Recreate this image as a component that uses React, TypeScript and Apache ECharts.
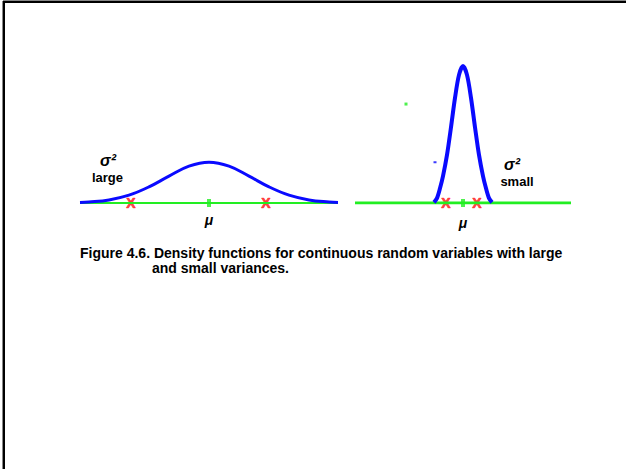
import React, { useEffect, useRef } from "react";
import * as echarts from "echarts";

// Wide (large variance) density: x in units, y in density units
const leftX = [-6.45, -6, -5, -4, -3, -2, -1, 0, 1, 2, 3, 4, 5, 6, 6.45];
const leftY = [0.003, 0.006, 0.019, 0.048, 0.099, 0.165, 0.226, 0.25, 0.226, 0.165, 0.099, 0.048, 0.019, 0.006, 0.003];
// Narrow (small variance) density
const rightX = [-1.45, -1.3, -1.15, -1, -0.8, -0.6, -0.4, -0.2, 0, 0.2, 0.4, 0.6, 0.8, 1, 1.15, 1.3, 1.45];
const rightY = [0.004, 0.03, 0.09, 0.165, 0.295, 0.465, 0.645, 0.786, 0.84, 0.786, 0.645, 0.465, 0.295, 0.165, 0.09, 0.03, 0.004];
// Axis ranges
const leftRange = [-6.45, 6.45];
const rightRange = [-5.4, 5.4];
// Red X marks
const leftMarks = [-3.9, 2.85];
const rightMarks = [-0.85, 0.7];
// Means
const leftMean = 0;
const rightMean = 0;
// stray specks in right panel
const rightSpecksGreen = [[-2.85, 0.607]];
const rightSpecksBlue = [[-1.4, 0.25]];

const captionLine1 = "Figure 4.6. Density functions for continuous random variables with large";
const captionLine2 = "and small variances.";

const GREEN = "#22ee22";
const BLUE = "#0a0aff";
const RED = "#ff1a1a";
const FONT = "'Liberation Sans', Arial, sans-serif";

export default function App() {
  const ref = useRef<HTMLDivElement>(null);
  useEffect(() => {
    if (!ref.current) return;
    const chart = echarts.init(ref.current, null, { renderer: "svg" });
    const zip = (xs: number[], ys: number[]) => xs.map((x, i) => [x, ys[i]]);
    const xMarkLabel = {
      show: true,
      formatter: "X",
      position: "inside",
      color: RED,
      fontSize: 14,
      fontWeight: "bold",
      fontFamily: FONT,
      textBorderColor: RED,
      textBorderWidth: 0.7,
    };
    const option: any = {
      animation: false,
      backgroundColor: "#ffffff",
      grid: [
        { left: 80, width: 258, top: 40, height: 163 },
        { left: 355, width: 216, top: 40, height: 163 },
      ],
      xAxis: [
        { type: "value", gridIndex: 0, min: leftRange[0], max: leftRange[1], show: false },
        { type: "value", gridIndex: 1, min: rightRange[0], max: rightRange[1], show: false },
      ],
      yAxis: [
        { type: "value", gridIndex: 0, min: 0, max: 1, show: false },
        { type: "value", gridIndex: 1, min: 0, max: 1, show: false },
      ],
      series: [
        {
          type: "line", xAxisIndex: 0, yAxisIndex: 0, symbol: "none",
          data: [[leftRange[0], 0], [leftRange[1], 0]],
          lineStyle: { color: GREEN, width: 2 },
        },
        {
          type: "line", xAxisIndex: 1, yAxisIndex: 1, symbol: "none",
          data: [[rightRange[0], 0], [rightRange[1], 0]],
          lineStyle: { color: GREEN, width: 3 },
        },
        {
          type: "line", xAxisIndex: 0, yAxisIndex: 0, symbol: "none", smooth: 0.4,
          data: zip(leftX, leftY),
          lineStyle: { color: BLUE, width: 3 },
        },
        {
          type: "line", xAxisIndex: 1, yAxisIndex: 1, symbol: "none", smooth: 0.3,
          data: zip(rightX, rightY),
          lineStyle: { color: BLUE, width: 4 },
        },
        {
          type: "scatter", xAxisIndex: 0, yAxisIndex: 0, symbol: "rect", symbolSize: [4, 8],
          data: [[leftMean, 0]], itemStyle: { color: GREEN },
        },
        {
          type: "scatter", xAxisIndex: 1, yAxisIndex: 1, symbol: "rect", symbolSize: [4, 8],
          data: [[rightMean, 0]], itemStyle: { color: GREEN },
        },
        {
          type: "scatter", xAxisIndex: 0, yAxisIndex: 0, symbol: "circle", symbolSize: 1,
          data: leftMarks.map((x) => [x, 0]), itemStyle: { color: "rgba(0,0,0,0)" },
          label: xMarkLabel,
        },
        {
          type: "scatter", xAxisIndex: 1, yAxisIndex: 1, symbol: "circle", symbolSize: 1,
          data: rightMarks.map((x) => [x, 0]), itemStyle: { color: "rgba(0,0,0,0)" },
          label: xMarkLabel,
        },
        {
          type: "scatter", xAxisIndex: 1, yAxisIndex: 1, symbol: "rect", symbolSize: [3, 3],
          data: rightSpecksGreen, itemStyle: { color: GREEN },
        },
        {
          type: "scatter", xAxisIndex: 1, yAxisIndex: 1, symbol: "rect", symbolSize: [3, 2],
          data: rightSpecksBlue, itemStyle: { color: BLUE },
        },
      ],
      graphic: [
        { type: "rect", shape: { x: 3, y: 0, width: 623, height: 1 }, style: { fill: "#888" }, silent: true },
        { type: "rect", shape: { x: 3, y: 1, width: 623, height: 2 }, style: { fill: "#000" }, silent: true },
        { type: "rect", shape: { x: 2, y: 1, width: 1, height: 468 }, style: { fill: "#888" }, silent: true },
        { type: "rect", shape: { x: 3, y: 1, width: 2, height: 468 }, style: { fill: "#000" }, silent: true },
        {
          type: "text", x: 108, y: 160,
          style: { text: "σ²", font: `italic bold 16px ${FONT}`, fill: "#000", textAlign: "center", textVerticalAlign: "middle" },
        },
        {
          type: "text", x: 107.5, y: 177,
          style: { text: "large", font: `bold 13px ${FONT}`, fill: "#000", textAlign: "center", textVerticalAlign: "middle" },
        },
        {
          type: "text", x: 512, y: 164,
          style: { text: "σ²", font: `italic bold 16px ${FONT}`, fill: "#000", textAlign: "center", textVerticalAlign: "middle" },
        },
        {
          type: "text", x: 517, y: 181,
          style: { text: "small", font: `bold 13px ${FONT}`, fill: "#000", textAlign: "center", textVerticalAlign: "middle" },
        },
        {
          type: "text", x: 209, y: 220,
          style: { text: "μ", font: `italic bold 14px ${FONT}`, fill: "#000", textAlign: "center", textVerticalAlign: "middle" },
        },
        {
          type: "text", x: 463, y: 223,
          style: { text: "μ", font: `italic bold 14px ${FONT}`, fill: "#000", textAlign: "center", textVerticalAlign: "middle" },
        },
        {
          type: "text", x: 80, y: 253,
          style: { text: captionLine1, font: `bold 14px ${FONT}`, fill: "#000", textAlign: "left", textVerticalAlign: "middle" },
        },
        {
          type: "text", x: 152, y: 268,
          style: { text: captionLine2, font: `bold 14px ${FONT}`, fill: "#000", textAlign: "left", textVerticalAlign: "middle" },
        },
      ],
    };
    chart.setOption(option);
    return () => chart.dispose();
  }, []);
  return (
    <div
      ref={ref}
      style={{ position: "fixed", left: 0, top: 0, width: 626, height: 469, background: "#fff" }}
    />
  );
}
